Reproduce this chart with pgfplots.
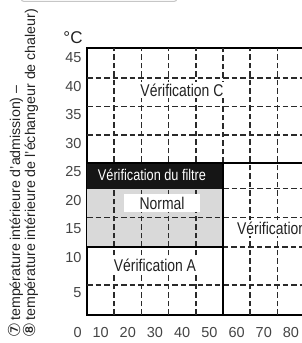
\documentclass[border=0pt]{standalone}
\usepackage{pgfplots}
\pgfplotsset{compat=1.18}
\usepackage{fontspec}
\setmainfont{Liberation Sans}
\newfontfamily\condfont{Liberation Sans}[FakeStretch=0.82]
\newfontfamily\symfont{DejaVu Sans}
\definecolor{labelgray}{HTML}{444444}
\definecolor{txt}{HTML}{222222}
\definecolor{gridc}{HTML}{2A2A2A}
\definecolor{normgray}{HTML}{D9D9D9}
\definecolor{boxblack}{HTML}{151515}
\tikzset{lbl/.style={text=txt, fill=white, inner sep=1.5bp, font=\condfont\fontsize{17bp}{17bp}\selectfont}}
\begin{document}
\begin{tikzpicture}
\begin{axis}[
  at={(87bp,28bp)}, anchor=south west,
  scale only axis, width=220.3bp, height=267bp,
  xmin=5, xmax=86, ymin=-0.09, ymax=46.75,
  xtick={10,20,30,40,50,60,70,80},
  xticklabels={10,20,30,40,50,60,70,80},
  ytick={3.8,10,15,20,25,30,35,40,45},
  yticklabels={5,10,15,20,25,30,35,40,45},
  major tick length=0pt,
  axis line style={line width=1.6bp, black},
  tick label style={font=\fontsize{14.5bp}{14.5bp}\selectfont, text=labelgray},
  xticklabel style={yshift=-9bp},
  yticklabel style={xshift=-2bp},
  clip=false,
  dsh/.style={gridc, line width=1.5bp, dash pattern=on 5.5bp off 3bp, forget plot},
  sol/.style={black, line width=1.6bp, forget plot},
]
% grey "Normal" region
\addplot[fill=normgray, draw=none, forget plot] coordinates {(5,11.8) (55,11.8) (55,22.1) (5,22.1)} -- cycle;
% horizontal dashed grid lines
\addplot[dsh] coordinates {(5,41.5) (86,41.5)};
\addplot[dsh] coordinates {(5,36.5) (86,36.5)};
\addplot[dsh] coordinates {(5,31.5) (86,31.5)};
\addplot[dsh] coordinates {(5,22.1) (86,22.1)};
\addplot[dsh] coordinates {(5,17) (86,17)};
\addplot[dsh] coordinates {(55,11.8) (86,11.8)};
\addplot[dsh] coordinates {(5,5.2) (86,5.2)};
% vertical dashed grid lines
\addplot[dsh] coordinates {(15,-0.09) (15,46.75)};
\addplot[dsh] coordinates {(25,-0.09) (25,46.75)};
\addplot[dsh] coordinates {(35,-0.09) (35,46.75)};
\addplot[dsh] coordinates {(45,-0.09) (45,46.75)};
\addplot[dsh] coordinates {(55,26.6) (55,46.75)};
\addplot[dsh] coordinates {(65,-0.09) (65,46.75)};
\addplot[dsh] coordinates {(75,-0.09) (75,46.75)};
% black filter box
\addplot[fill=boxblack, draw=none, forget plot] coordinates {(5,22.1) (55,22.1) (55,26.6) (5,26.6)} -- cycle;
% white label box for Normal
\addplot[fill=white, draw=none, forget plot] coordinates {(18.6,17.9) (46.5,17.9) (46.5,21.2) (18.6,21.2)} -- cycle;
% solid boundaries
\addplot[sol] coordinates {(5,11.8) (55,11.8)};
\addplot[sol] coordinates {(5,26.6) (86,26.6)};
\addplot[sol] coordinates {(55,-0.09) (55,26.6)};
% texts
\node[lbl] at (axis cs:39.9,39.4) {Vérification C};
\node[text=white, font=\condfont\fontsize{15.5bp}{15.5bp}\selectfont] at (axis cs:28.9,24.45) {Vérification du filtre};
\node[text=txt, font=\condfont\fontsize{17bp}{17bp}\selectfont] at (axis cs:32.6,19.5) {Normal};
\node[lbl] at (axis cs:30,8.6) {Vérification A};
\node[lbl, anchor=west] at (axis cs:59.6,15.2) {Vérification B};
\node[text=labelgray, font=\fontsize{14.5bp}{14.5bp}\selectfont, anchor=north, yshift=-9bp] at (axis cs:1.6,-0.09) {0};
\end{axis}
\node[text=txt, font=\fontsize{17bp}{17bp}\selectfont] at (73bp,305bp) {°C};
\node[text=txt, rotate=90, anchor=base west, inner sep=0pt, font=\fontsize{14.2bp}{14.2bp}\selectfont] at (20bp,5bp) {{\symfont\fontsize{16.5bp}{16.5bp}\selectfont ⑦}\,température intérieure d'admission) –};
\node[text=txt, rotate=90, anchor=base west, inner sep=0pt, font=\fontsize{14.2bp}{14.2bp}\selectfont] at (35bp,5bp) {{\symfont\fontsize{16.5bp}{16.5bp}\selectfont ⑧}\,température intérieure de l'échangeur de chaleur)};
\draw[gray!45, line width=1bp, rounded corners=3bp] (21bp,346bp) -- (21bp,341.5bp) -- (177bp,341.5bp) -- (177bp,346bp);
\pgfresetboundingbox
\path[use as bounding box] (0,0) rectangle (302bp,343bp);
\end{tikzpicture}
\end{document}
